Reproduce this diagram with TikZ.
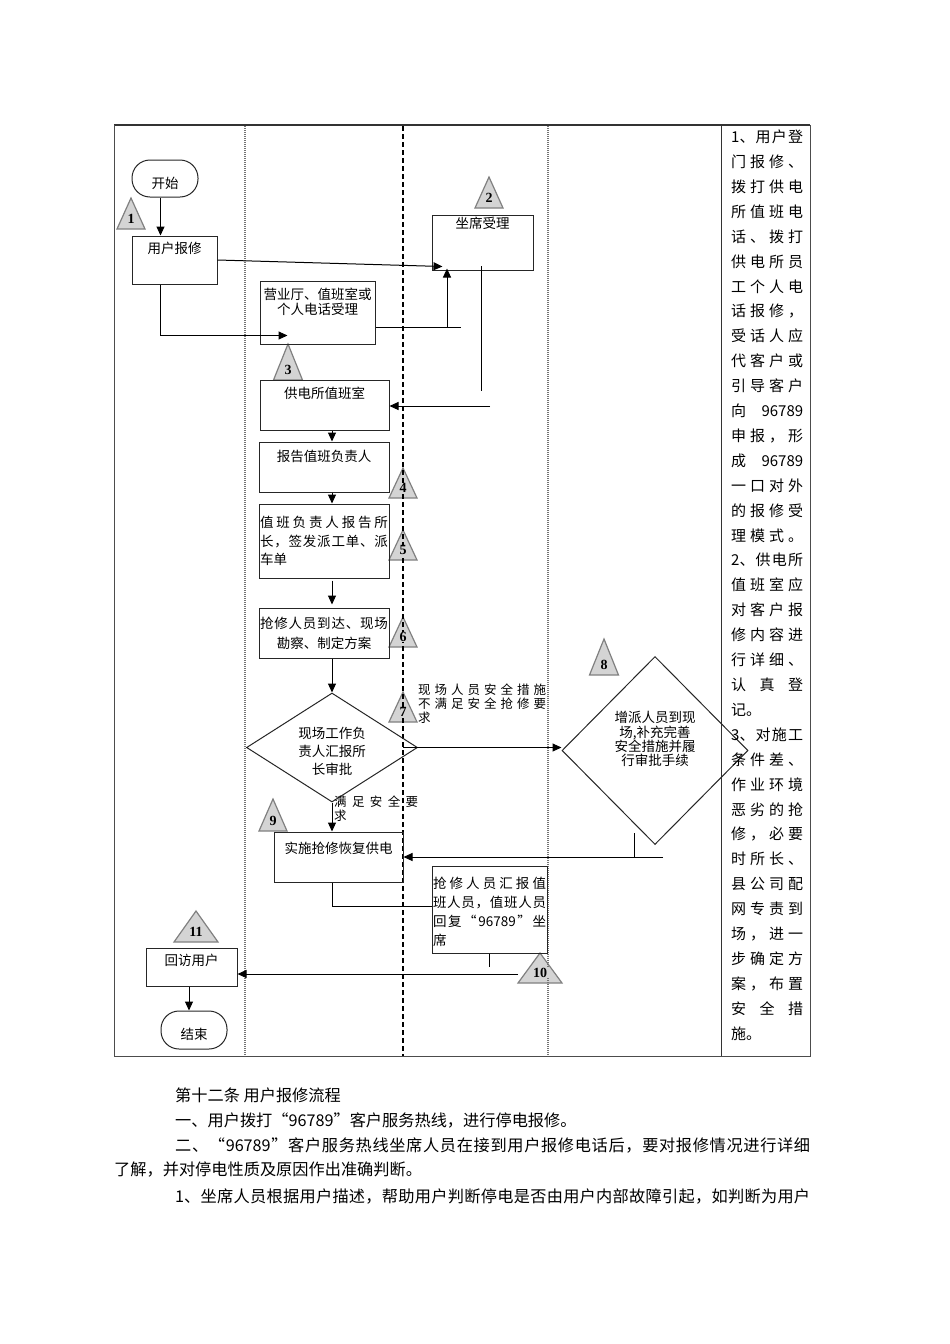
\documentclass[tikz,border=0pt]{standalone}
\usepackage{fontspec}
\setmainfont{Noto Sans CJK SC}
\newfontfamily\trifont{Liberation Serif}
\usetikzlibrary{arrows.meta,shapes.geometric,calc}
\makeatletter
\def\spreadchars#1{\spr@A#1\@nil}
\def\spr@A#1{#1\spr@B}
\def\spr@B#1{\ifx\@nil#1\else\hfill#1\expandafter\spr@B\fi}
\makeatother
\newcommand{\jl}[2][72pt]{\makebox[#1][s]{\spreadchars{#2}}}
\newcommand{\fsA}{\fontsize{13.5pt}{16pt}\selectfont}
\newcommand{\fsR}{\fontsize{15pt}{18pt}\selectfont}
\newcommand{\fsB}{\fontsize{16.2pt}{20pt}\selectfont}
\newcommand{\fsS}{\fontsize{12.5pt}{14pt}\selectfont}
\newcommand{\trishape}[4]{%
  \filldraw[tri] (#1-#3,#2) -- (#1+#3,#2) -- (#1,#2-#4) -- cycle;}
\newcommand{\trilabel}[4]{%
  \node[trinum] (#1) at (#2,#3-10) {#4};}
\tikzset{
  box/.style={draw=black!85, line width=1pt, inner sep=0pt},
  stad/.style={draw=black!85, line width=1pt, inner sep=0pt, rounded corners=18pt, font=\fsA},
  tl/.style={anchor=center, inner sep=0pt, font=\fsA, align=center},
  dia/.style={draw=black!85, line width=1pt, diamond, inner sep=0pt, font=\fsA, align=center},
  arr/.style={-{Triangle[length=9pt,width=8pt]}, line width=1pt, black},
  ln/.style={line width=1pt, black},
  tri/.style={fill=black!17, draw=black!50, line width=1.2pt},
  trinum/.style={font={\trifont\bfseries\fontsize{14pt}{14pt}\selectfont}, inner xsep=1.5pt, inner ysep=0.5pt, fill=black!17},
  dotl/.style={draw=black!55, line width=1.5pt, dash pattern=on 1pt off 1pt},
  dashl/.style={draw=black, line width=1.3pt, dash pattern=on 5pt off 3pt},
  rc/.style={anchor=west, inner sep=0pt, font=\fsR},
  body/.style={anchor=west, inner sep=0pt, font=\fsB},
}
\begin{document}
\begin{tikzpicture}[x=1pt,y=-1pt]
\useasboundingbox (0,0) rectangle (950,1344);
% triangle shapes
\trishape{131}{229}{14}{31}
\trishape{489}{208}{14}{31}
\trishape{288}{380}{14.5}{36}
\trishape{403}{498}{14}{30}
\trishape{403}{560}{14}{30}
\trishape{403}{647}{14}{30}
\trishape{403}{722}{14}{30}
\trishape{604}{675}{14.5}{36}
\trishape{273}{831}{14}{32}
\trishape{540}{983}{22}{30}
\trishape{196}{942}{22}{31}
% frame and lanes
\draw[line width=1.6pt, black!80] (114,125) -- (810,125);
\draw[line width=1pt, black!70] (114,125) -- (114,1056) -- (810,1056) -- (810,125);
\draw[line width=1pt, black!80] (721,125) -- (721,1056);
\draw[dotl] (245,126) -- (245,1056);
\draw[dotl] (548,126) -- (548,1056);
\draw[dashl] (403,126) -- (403,1056);
% triangle numbers
\trilabel{T1}{131}{229}{1}
\trilabel{T2}{489}{208}{2}
\trilabel{T3}{288}{380}{3}
\trilabel{T4}{403}{498}{4}
\trilabel{T5}{403}{560}{5}
\trilabel{T6}{403}{647}{6}
\trilabel{T7}{403}{722}{7}
\trilabel{T8}{604}{675}{8}
\trilabel{T9}{273}{831}{9}
\trilabel{T10}{540}{983}{10}
\trilabel{T11}{196}{942}{11}
% nodes
\node[stad, minimum width=66pt, minimum height=37pt, label={[tl,yshift=-4.5pt]center:{开始}}] (start) at (165,178.5) {};
\node[box, minimum width=85pt, minimum height=48pt, label={[tl,yshift=-13pt]north:{用户报修}}] (ubx) at (174.5,260) {};
\node[box, minimum width=101pt, minimum height=55pt, label={[tl,yshift=-9pt]north:{坐席受理}}] (zx) at (482.5,242.5) {};
\node[box, minimum width=115pt, minimum height=63pt, label={[tl,yshift=-21.5pt,font={\fontsize{13.5pt}{15pt}\selectfont}]north:{营业厅、值班室或\\个人电话受理}}] (yy) at (317.5,312.5) {};
\node[box, minimum width=129pt, minimum height=50pt, label={[tl,yshift=-14pt]north:{供电所值班室}}] (gd) at (324.5,405) {};
\node[box, minimum width=130pt, minimum height=50pt, label={[tl,yshift=-15pt]north:{报告值班负责人}}] (bg) at (324,467) {};
\node[box, minimum width=130pt, minimum height=74pt, label={[tl,align=left,font={\fontsize{13.5pt}{18.5pt}\selectfont}]center:{\jl[128pt]{值班负责人报告所}\\\jl[128pt]{长，签发派工单、派}\\车单}}] (zb) at (324,541) {};
\node[box, minimum width=130pt, minimum height=50pt, label={[tl,font={\fontsize{13.5pt}{20pt}\selectfont}]center:{\jl[128pt]{抢修人员到达、现场}\\勘察、制定方案}}] (qx) at (324,633) {};
\node[dia, minimum width=171pt, minimum height=109pt, label={[tl,yshift=-3.5pt,font={\fontsize{13.5pt}{18pt}\selectfont}]center:{现场工作负\\责人汇报所\\长审批}}] (d1) at (332,747.5) {};
\node[dia, minimum width=186pt, minimum height=188pt, label={[tl,yshift=11.5pt,font={\fontsize{13.5pt}{14.2pt}\selectfont}]center:{增派人员到现\\场,补充完善\\安全措施并履\\行审批手续}}] (d8) at (655,750.5) {};
\node[box, minimum width=129pt, minimum height=50pt, label={[tl,yshift=-17pt]north:{实施抢修恢复供电}}] (fx) at (338.5,857) {};
\node[box, minimum width=115pt, minimum height=87pt, label={[tl,align=left,yshift=-2.5pt,font={\fontsize{13.5pt}{18.8pt}\selectfont}]center:{\jl[113pt]{抢修人员汇报值}\\\jl[113pt]{班人员，值班人员}\\\jl[113pt]{回复“{96789}”坐}\\席}}] (hb) at (489.5,909.5) {};
\node[box, minimum width=91pt, minimum height=38pt, label={[tl,yshift=-13pt]north:{回访用户}}] (hf) at (191.5,967) {};
\node[stad, minimum width=66pt, minimum height=38pt, label={[tl,yshift=-4pt]center:{结束}}] (end) at (194,1030) {};
% condition texts
\node[anchor=west, inner sep=0pt, align=left, font=\fsS] (c7) at (418,704) {\jl[128pt]{现场人员安全措施}\\\jl[128pt]{不满足安全抢修要}\\求};
\node[anchor=west, inner sep=0pt, align=left, font=\fsS] (c9) at (334,809) {\jl[84pt]{满足安全要}\\求};
% connectors
\coordinate (ax) at (332,0);
\draw[arr] ([xshift=-4.5pt]start.south) -- ([xshift=-4.5pt]start.south |- ubx.north);
\draw[arr] (ubx.east) -- ([xshift=11pt,yshift=4pt]zx.south west);
\draw[arr] ([xshift=-14pt]ubx.south) |- ([xshift=28pt,yshift=9pt]yy.south west);
\coordinate (j1) at (447,327);
\coordinate (j2) at (461,327);
\draw[ln] (yy.east |- j1) -- (j2);
\draw[arr] (j1) -- ($(j1 |- zx.south)+(0,-2)$);
\coordinate (k1) at (481,266);
\coordinate (k2) at (481,391);
\draw[ln] (k1) -- (k2);
\coordinate (k3) at (490,406);
\draw[arr] (k3) -- (k3 -| gd.east);
\draw[arr] (gd.south -| ax) -- (bg.north -| ax);
\draw[arr] (bg.south -| ax) -- (zb.north -| ax);
\draw[arr] ($(zb.south -| ax)+(0,2)$) -- ($(qx.north -| ax)+(0,-3)$);
\draw[arr] (qx.south -| ax) -- (d1.north);
\draw[arr] ($(d1.east)+(-15,0)$) -- (d1.east -| d8.west);
\draw[arr] (d1.south) -- (d1.south |- fx.north);
\coordinate (m1) at (634,833);
\coordinate (m2) at (663,857);
\draw[ln] (m1) -- (m1 |- m2);
\draw[arr] (m2) -- (m2 -| fx.east);
\draw[ln] (fx.south -| ax) |- ($(hb.west)+(0,-3.5)$);
\draw[ln] (hb.south) -- ++(0,13);
\coordinate (t10) at (518,974);
\draw[arr] (t10) -- (t10 -| hf.east);
\draw[arr] ([xshift=-2.5pt]hf.south) -- ([xshift=-2.5pt]hf.south |- end.north);
% right column text
\node[rc] (r1) at (731,137) {\jl{{1、}用户登}};
\node[rc] (r2) at (731,161.9) {\jl{门报修、}};
\node[rc] (r3) at (731,186.8) {\jl{拨打供电}};
\node[rc] (r4) at (731,211.7) {\jl{所值班电}};
\node[rc] (r5) at (731,236.6) {\jl{话、拨打}};
\node[rc] (r6) at (731,261.5) {\jl{供电所员}};
\node[rc] (r7) at (731,286.4) {\jl{工个人电}};
\node[rc] (r8) at (731,311.3) {\jl{话报修，}};
\node[rc] (r9) at (731,336.2) {\jl{受话人应}};
\node[rc] (r10) at (731,361.1) {\jl{代客户或}};
\node[rc] (r11) at (731,386) {\jl{引导客户}};
\node[rc] (r12) at (731,410.9) {\jl{向{96789}}};
\node[rc] (r13) at (731,435.8) {\jl{申报，形}};
\node[rc] (r14) at (731,460.7) {\jl{成{96789}}};
\node[rc] (r15) at (731,485.6) {\jl{一口对外}};
\node[rc] (r16) at (731,510.5) {\jl{的报修受}};
\node[rc] (r17) at (731,535.4) {\jl{理模式。}};
\node[rc] (r18) at (731,560.3) {\jl{{2、}供电所}};
\node[rc] (r19) at (731,585.2) {\jl{值班室应}};
\node[rc] (r20) at (731,610.1) {\jl{对客户报}};
\node[rc] (r21) at (731,635) {\jl{修内容进}};
\node[rc] (r22) at (731,659.9) {\jl{行详细、}};
\node[rc] (r23) at (731,684.8) {\jl{认真登}};
\node[rc] (r24) at (731,709.7) {记。};
\node[rc] (r25) at (731,734.6) {\jl{{3、}对施工}};
\node[rc] (r26) at (731,759.5) {\jl{条件差、}};
\node[rc] (r27) at (731,784.4) {\jl{作业环境}};
\node[rc] (r28) at (731,809.3) {\jl{恶劣的抢}};
\node[rc] (r29) at (731,834.2) {\jl{修，必要}};
\node[rc] (r30) at (731,859.1) {\jl{时所长、}};
\node[rc] (r31) at (731,884) {\jl{县公司配}};
\node[rc] (r32) at (731,908.9) {\jl{网专责到}};
\node[rc] (r33) at (731,933.8) {\jl{场，进一}};
\node[rc] (r34) at (731,958.7) {\jl{步确定方}};
\node[rc] (r35) at (731,983.6) {\jl{案，布置}};
\node[rc] (r36) at (731,1008.5) {\jl{安全措}};
\node[rc] (r37) at (731,1033.4) {施。};
% body text
\node[body] (b1) at (175,1095) {第十二条 用户报修流程};
\node[body] (b2) at (175,1120) {一、用户拨打“96789”客户服务热线，进行停电报修。};
\node[body] (b3) at (175,1145) {\jl[635pt]{二、“{96789}”客户服务热线坐席人员在接到用户报修电话后，要对报修情况进行详细}};
\node[body] (b4) at (114,1170) {了解，并对停电性质及原因作出准确判断。};
\node[body] (b5) at (175,1196) {\jl[635pt]{{1、}坐席人员根据用户描述，帮助用户判断停电是否由用户内部故障引起，如判断为用户}};
\end{tikzpicture}
\end{document}
